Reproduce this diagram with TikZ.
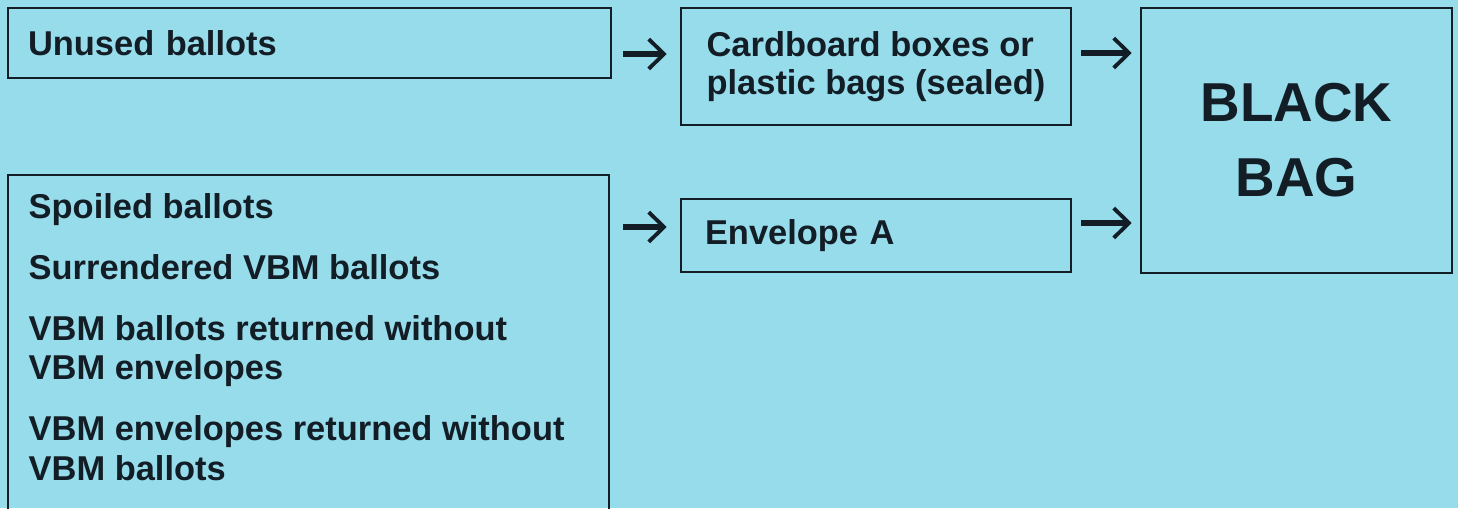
\documentclass[tikz,border=0pt]{standalone}
\usepackage{fontspec}
\setmainfont{Liberation Sans}
\usetikzlibrary{arrows.meta, positioning, calc}
\definecolor{bgblue}{HTML}{96DCEB}
\definecolor{inkdark}{HTML}{131D26}

\begin{document}
\begin{tikzpicture}[
  box/.style={rectangle, draw=inkdark, line width=0.8pt, inner xsep=#1, inner ysep=0pt, align=left, text=inkdark, font=\fontsize{9.8}{11}\selectfont\bfseries},
  bagbox/.style={rectangle, draw=inkdark, line width=0.8pt, align=center, text=inkdark, font=\fontsize{15.6}{21.3}\selectfont\bfseries},
  listtext/.style={inner sep=0pt, align=left, text=inkdark, font=\fontsize{9.8}{11.3}\selectfont\bfseries},
  arr/.style={-{Straight Barb[length=4.3pt, width=8.5pt, line width=1.1pt]}, line width=1.8pt, inkdark},
]
  % Background
  \fill[bgblue] (0, 0) rectangle (14.58, -5.08);
  \clip (0, 0) rectangle (14.58, -5.08);

  % Left column
  \node[box=0.2cm, text width=5.63cm, minimum height=0.7cm] (unused) at (3.095, -0.43) {Unused ballots};
  \node[box=0.2cm, minimum width=6.01cm, minimum height=3.45cm] (spoiled) at (3.085, -3.475) {};
  \node[listtext, anchor=north west] (spoiledtxt) at (0.28, -1.93)
    {Spoiled ballots\\[6pt]
     Surrendered VBM ballots\\[6pt]
     VBM ballots returned without\\VBM envelopes\\[6pt]
     VBM envelopes returned without\\VBM ballots};

  % Middle column
  \node[box=0.24cm, minimum width=3.9cm, minimum height=1.17cm] (card) at (8.76, -0.665) {Cardboard boxes or\\plastic bags (sealed)};
  \node[box=0.24cm, text width=3.42cm, minimum height=0.73cm] (envA) at (8.76, -2.355) {Envelope A};

  % Right column
  \node[bagbox, minimum width=3.11cm, minimum height=2.65cm] (bag) at (12.965, -1.405) {BLACK\\BAG};

  % Arrows
  \draw[arr, shorten <=0.11cm, shorten >=0.13cm] (unused.east |- 0, -0.54) -- (card.west |- 0, -0.54);
  \draw[arr, shorten <=0.13cm, shorten >=0.13cm] (spoiled.east |- 0, -2.27) -- (envA.west |- 0, -2.27);
  \draw[arr, shorten <=0.09cm, shorten >=0.08cm] (card.east |- 0, -0.53) -- (bag.west |- 0, -0.53);
  \draw[arr, shorten <=0.09cm, shorten >=0.08cm] (envA.east |- 0, -2.23) -- (bag.west |- 0, -2.23);
\end{tikzpicture}
\end{document}
